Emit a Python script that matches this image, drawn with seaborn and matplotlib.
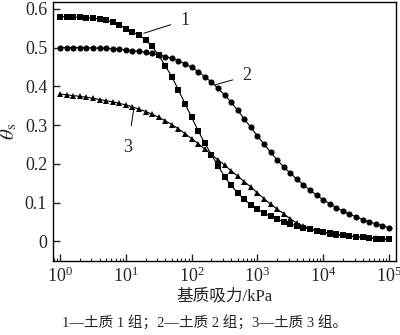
import numpy as np
import pandas as pd
import matplotlib
matplotlib.use("Agg")
import matplotlib.pyplot as plt
import matplotlib.ticker as mticker
import seaborn as sns

# Suction values (kPa), 10 points per decade from 10^0 to 10^5
suction = [1.0, 1.259, 1.585, 1.995, 2.512, 3.162, 3.981, 5.012, 6.310, 7.943,
           10.0, 12.59, 15.85, 19.95, 25.12, 31.62, 39.81, 50.12, 63.10, 79.43,
           100.0, 125.9, 158.5, 199.5, 251.2, 316.2, 398.1, 501.2, 631.0, 794.3,
           1000.0, 1259, 1585, 1995, 2512, 3162, 3981, 5012, 6310, 7943,
           10000.0, 12589, 15849, 19953, 25119, 31623, 39811, 50119, 63096, 79433,
           100000.0]

theta_1 = [0.580, 0.580, 0.579, 0.578, 0.577, 0.576, 0.574, 0.571, 0.566, 0.559,
           0.549, 0.540, 0.532, 0.520, 0.503, 0.480, 0.452, 0.425, 0.390, 0.355,
           0.320, 0.285, 0.253, 0.224, 0.195, 0.167, 0.144, 0.125, 0.108, 0.094,
           0.083, 0.073, 0.064, 0.057, 0.051, 0.045, 0.040, 0.035, 0.031, 0.027,
           0.024, 0.021, 0.018, 0.016, 0.014, 0.012, 0.010, 0.008, 0.007, 0.006,
           0.005]

theta_2 = [0.500, 0.500, 0.500, 0.500, 0.500, 0.499, 0.499, 0.498, 0.497, 0.496,
           0.494, 0.492, 0.490, 0.488, 0.485, 0.481, 0.477, 0.472, 0.466, 0.458,
           0.449, 0.438, 0.425, 0.411, 0.395, 0.378, 0.359, 0.338, 0.316, 0.294,
           0.272, 0.251, 0.230, 0.210, 0.192, 0.176, 0.160, 0.146, 0.132, 0.119,
           0.107, 0.097, 0.087, 0.078, 0.070, 0.063, 0.056, 0.050, 0.045, 0.040,
           0.035]

theta_3 = [0.380, 0.378, 0.376, 0.374, 0.372, 0.369, 0.366, 0.363, 0.360, 0.356,
           0.352, 0.347, 0.341, 0.335, 0.328, 0.320, 0.311, 0.301, 0.290, 0.278,
           0.265, 0.252, 0.238, 0.224, 0.210, 0.197, 0.182, 0.168, 0.154, 0.140,
           0.125, 0.110, 0.096, 0.083, 0.071, 0.058, 0.047, 0.039, 0.032, 0.027,
           0.023, 0.020, 0.017, 0.015, 0.013, 0.011, 0.010, 0.009, 0.008, 0.007,
           0.006]

series_names = ["1", "2", "3"]
y_ticks = [0, 0.1, 0.2, 0.3, 0.4, 0.5, 0.6]
y_tick_labels = ["0", "0.1", "0.2", "0.3", "0.4", "0.5", "0.6"]
x_label = "基质吸力/kPa"
y_label = r"$\theta_\mathrm{s}$"
caption = "1—土质 1 组；2—土质 2 组；3—土质 3 组。"

df = pd.DataFrame({
    "suction": suction * 3,
    "theta": theta_1 + theta_2 + theta_3,
    "group": [series_names[0]] * len(suction) + [series_names[1]] * len(suction)
             + [series_names[2]] * len(suction),
})

sns.set_style("ticks")
plt.rcParams["font.family"] = ["Liberation Serif", "Noto Sans CJK SC"]
plt.rcParams["mathtext.fontset"] = "stix"
plt.rcParams["xtick.direction"] = "in"
plt.rcParams["ytick.direction"] = "in"

fig = plt.figure(figsize=(4.0, 3.35), dpi=100)
ax = fig.add_axes([0.132, 0.222, 0.858, 0.7735])

sns.lineplot(data=df, x="suction", y="theta", hue="group", style="group",
             palette=["black", "black", "black"],
             markers={"1": "s", "2": "o", "3": "^"}, dashes=False,
             markersize=4.4, markeredgewidth=0, linewidth=0.8,
             legend=False, ax=ax)

ax.set_xscale("log")
ax.set_xlim(0.774, 1.28e5)
ax.set_ylim(-0.05, 0.619)
ax.xaxis.set_major_locator(mticker.LogLocator(base=10, numticks=10))
ax.xaxis.set_minor_locator(mticker.LogLocator(base=10, subs=np.arange(2, 10), numticks=20))
ax.xaxis.set_minor_formatter(mticker.NullFormatter())
ax.set_yticks(y_ticks)
ax.set_yticklabels(y_tick_labels)

ax.tick_params(axis="both", which="major", labelsize=13, length=5, width=1.0,
               top=False, right=False, pad=4)
ax.tick_params(axis="x", which="minor", length=2.5, width=0.8, top=False)
for s in ax.spines.values():
    s.set_linewidth(1.0)
    s.set_color("black")

ax.set_xlabel(x_label, fontsize=12, labelpad=2)
ax.set_ylabel(y_label, fontsize=15, labelpad=4)

# Curve labels with leader lines
ax.annotate("1", xy=(18.7, 0.537), xytext=(80, 0.571),
            fontsize=13, ha="center", va="center",
            arrowprops=dict(arrowstyle="-", lw=0.7, color="black", shrinkA=5, shrinkB=0))
ax.annotate("2", xy=(228, 0.404), xytext=(700, 0.427),
            fontsize=13, ha="center", va="center",
            arrowprops=dict(arrowstyle="-", lw=0.7, color="black", shrinkA=5, shrinkB=0))
ax.annotate("3", xy=(13.2, 0.343), xytext=(10.8, 0.243),
            fontsize=13, ha="center", va="center",
            arrowprops=dict(arrowstyle="-", lw=0.7, color="black", shrinkA=7, shrinkB=0))

fig.text(0.512, 0.036, caption, fontsize=10.5, ha="center", va="center")

fig.savefig("out.png", dpi=100)
